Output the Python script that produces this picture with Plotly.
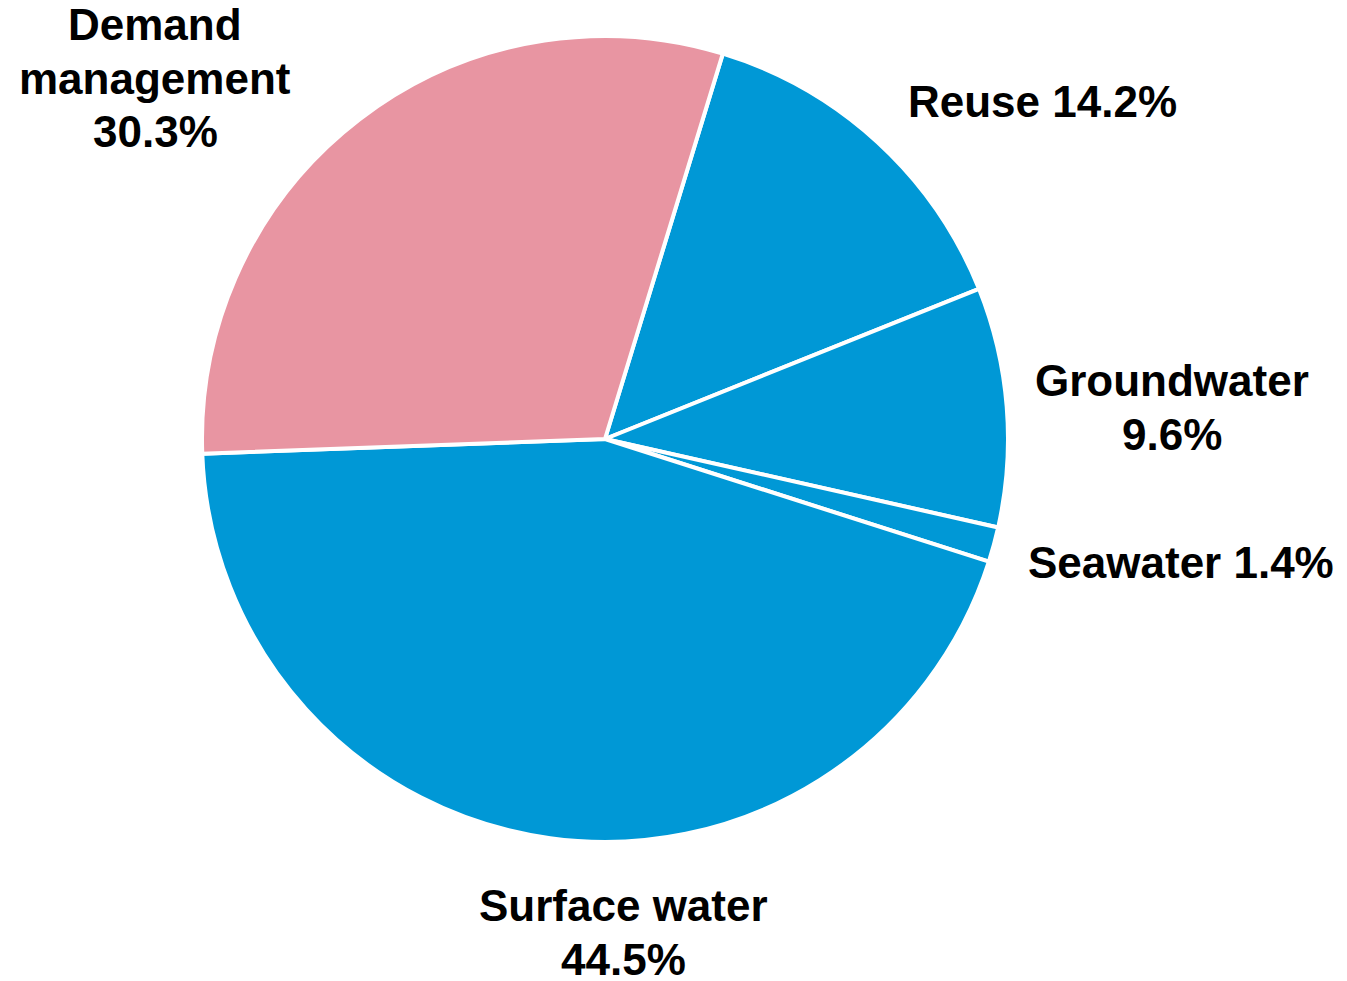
import plotly.graph_objects as go

labels = ["Reuse", "Groundwater", "Seawater", "Surface water", "Demand management"]
values = [14.2, 9.6, 1.4, 44.5, 30.3]
colors = ["#0098D6", "#0098D6", "#0098D6", "#0098D6", "#E895A2"]

# text lines of each slice label
label_lines = [["Reuse {v}%"], ["Groundwater", "{v}%"], ["Seawater {v}%"],
               ["Surface water", "{v}%"], ["Demand", "management", "{v}%"]]

W, H = 1347, 981
# label anchor: x centre and y of the first line, in pixels; line pitch
label_pos = [(1042, 101), (1172, 380), (1181, 562), (623, 905), (155, 24)]
LINE = 54

# pie box in pixels: left, right, top, bottom
pl, pr, pt, pb = 202, 1008, 36, 842

fig = go.Figure(go.Pie(
    labels=labels, values=values, sort=False, direction="clockwise",
    rotation=17, textinfo="none", hoverinfo="label+percent",
    marker=dict(colors=colors, line=dict(color="white", width=4)),
    domain=dict(x=[pl / W, pr / W], y=[1 - pb / H, 1 - pt / H]),
    showlegend=False,
))

for lines, v, (px, py) in zip(label_lines, values, label_pos):
    for i, ln in enumerate(lines):
        fig.add_annotation(
            text=ln.format(v=v), x=px / W, y=1 - (py + i * LINE) / H,
            xref="paper", yref="paper",
            xanchor="center", yanchor="middle", showarrow=False, align="center",
            font=dict(family="Liberation Sans", size=44, color="black", weight="bold"),
        )

fig.update_layout(width=W, height=H, margin=dict(l=0, r=0, t=0, b=0),
                  paper_bgcolor="white", plot_bgcolor="white")
fig.write_html("out.html", config={"displayModeBar": False},
               post_script="document.body.style.margin='0';document.body.style.overflow='hidden';")
